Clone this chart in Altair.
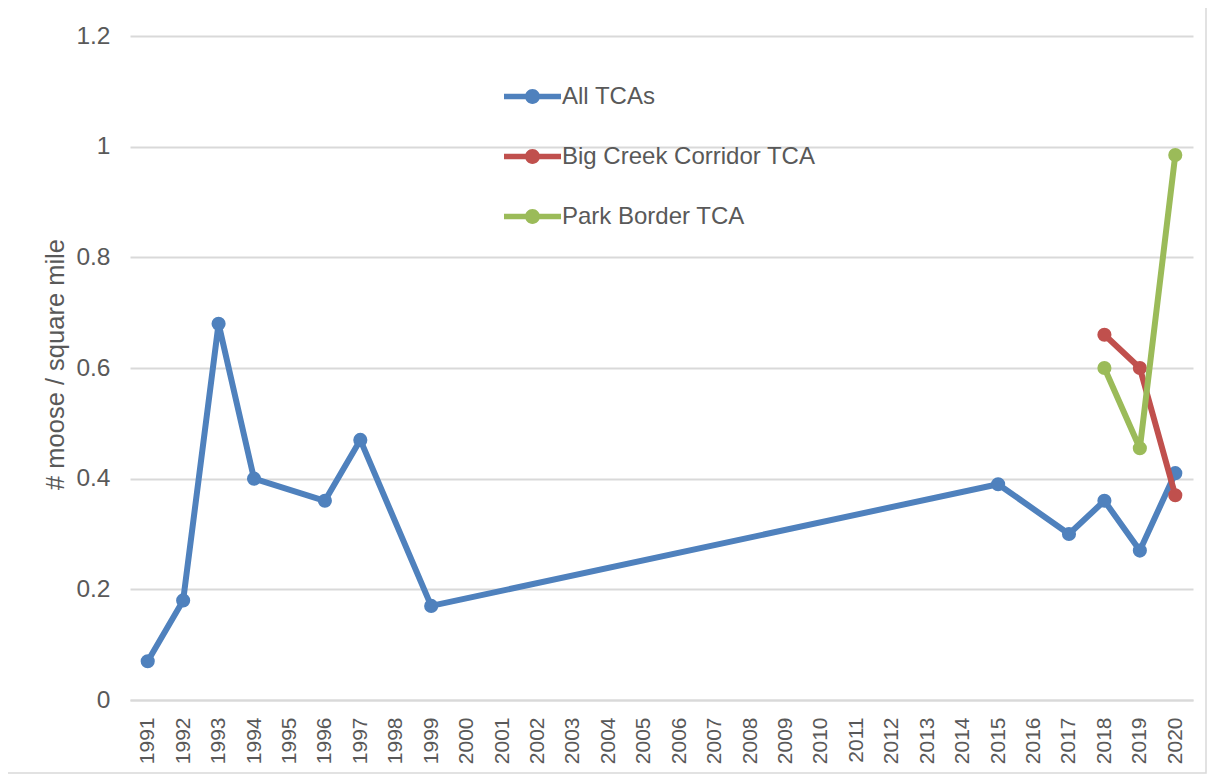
import altair as alt
import pandas as pd

years_all = [str(y) for y in range(1991, 2021)]

all_years = ["1991", "1992", "1993", "1994", "1996", "1997", "1999", "2015", "2017", "2018", "2019", "2020"]
all_vals = [0.07, 0.18, 0.68, 0.40, 0.36, 0.47, 0.17, 0.39, 0.30, 0.36, 0.27, 0.41]

bigcreek_years = ["2018", "2019", "2020"]
bigcreek_vals = [0.66, 0.60, 0.37]

park_years = ["2018", "2019", "2020"]
park_vals = [0.60, 0.455, 0.985]

series_names = ["All TCAs", "Big Creek Corridor TCA", "Park Border TCA"]
series_colors = ["#4F81BD", "#C0504D", "#9BBB59"]

rows = []
for name, ys, vs in [
    (series_names[0], all_years, all_vals),
    (series_names[1], bigcreek_years, bigcreek_vals),
    (series_names[2], park_years, park_vals),
]:
    for i, (y, v) in enumerate(zip(ys, vs)):
        rows.append({"series": name, "year": y, "value": v, "order": i})
df = pd.DataFrame(rows)

FONT = "Liberation Sans"
GRAY = "#595959"

sym_path = ("M-1,-0.1 L1,-0.1 L1,0.1 L-1,0.1 Z "
            "M0.26,0 A0.26,0.26 0 1,1 -0.26,0 A0.26,0.26 0 1,1 0.26,0 Z")

legend = alt.Legend(
    title=None,
    orient="none",
    legendX=374,
    legendY=32,
    symbolType=sym_path,
    symbolSize=3249,
    symbolStrokeWidth=0,
    labelFontSize=24,
    labelFont=FONT,
    labelColor=GRAY,
    labelOffset=1,
    labelLimit=600,
    rowPadding=19,
    padding=0,
)

color = alt.Color(
    "series:N",
    scale=alt.Scale(domain=series_names, range=series_colors),
    sort=series_names,
    legend=legend,
)

x = alt.X(
    "year:O",
    scale=alt.Scale(domain=years_all),
    axis=alt.Axis(
        title=None,
        labelAngle=-90,
        labelAlign="right",
        labelBaseline="middle",
        labelFontSize=21,
        labelFont=FONT,
        labelColor=GRAY,
        labelPadding=17,
        ticks=False,
        domainColor="#D9D9D9",
        domainWidth=2,
        grid=False,
    ),
)

y = alt.Y(
    "value:Q",
    scale=alt.Scale(domain=[0, 1.2], nice=False, zero=True),
    axis=alt.Axis(
        title="# moose / square mile",
        values=[0, 0.2, 0.4, 0.6, 0.8, 1.0, 1.2],
        format=".1~f",
        labelFontSize=24.5,
        labelFont=FONT,
        labelColor=GRAY,
        labelPadding=20,
        ticks=False,
        domain=False,
        gridColor="#D9D9D9",
        gridWidth=2,
        titleFontSize=25.5,
        titleFont=FONT,
        titleFontWeight="normal",
        titleColor=GRAY,
        titleBaseline="alphabetic",
        titleX=-67,
        titleY=328,
    ),
)

border = alt.Chart(pd.DataFrame({"a": [0]})).mark_rect(
    fill=None, stroke="#D9D9D9", strokeWidth=1.5
).encode(
    x=alt.value(-123), x2=alt.value(1076), y=alt.value(-29), y2=alt.value(737)
)

lines = alt.Chart(df).mark_line(strokeWidth=6, strokeCap="round", strokeJoin="round").encode(
    x=x, y=y, color=color, detail="series:N", order="order:Q"
)
points = alt.Chart(df).mark_circle(size=200, opacity=1).encode(
    x=x, y=y, color=color
)

layers = []
for name in series_names:
    layers.append(lines.transform_filter(alt.datum.series == name))
    layers.append(points.transform_filter(alt.datum.series == name))

chart = alt.layer(border, *layers).properties(
    width=1063,
    height=664,
    padding={"left": 122, "top": 28, "right": 16, "bottom": 75},
    autosize=alt.AutoSizeParams(type="none"),
).configure(background="white").configure_view(stroke=None)

chart.save("out.html", embed_options={"renderer": "svg", "actions": False})
